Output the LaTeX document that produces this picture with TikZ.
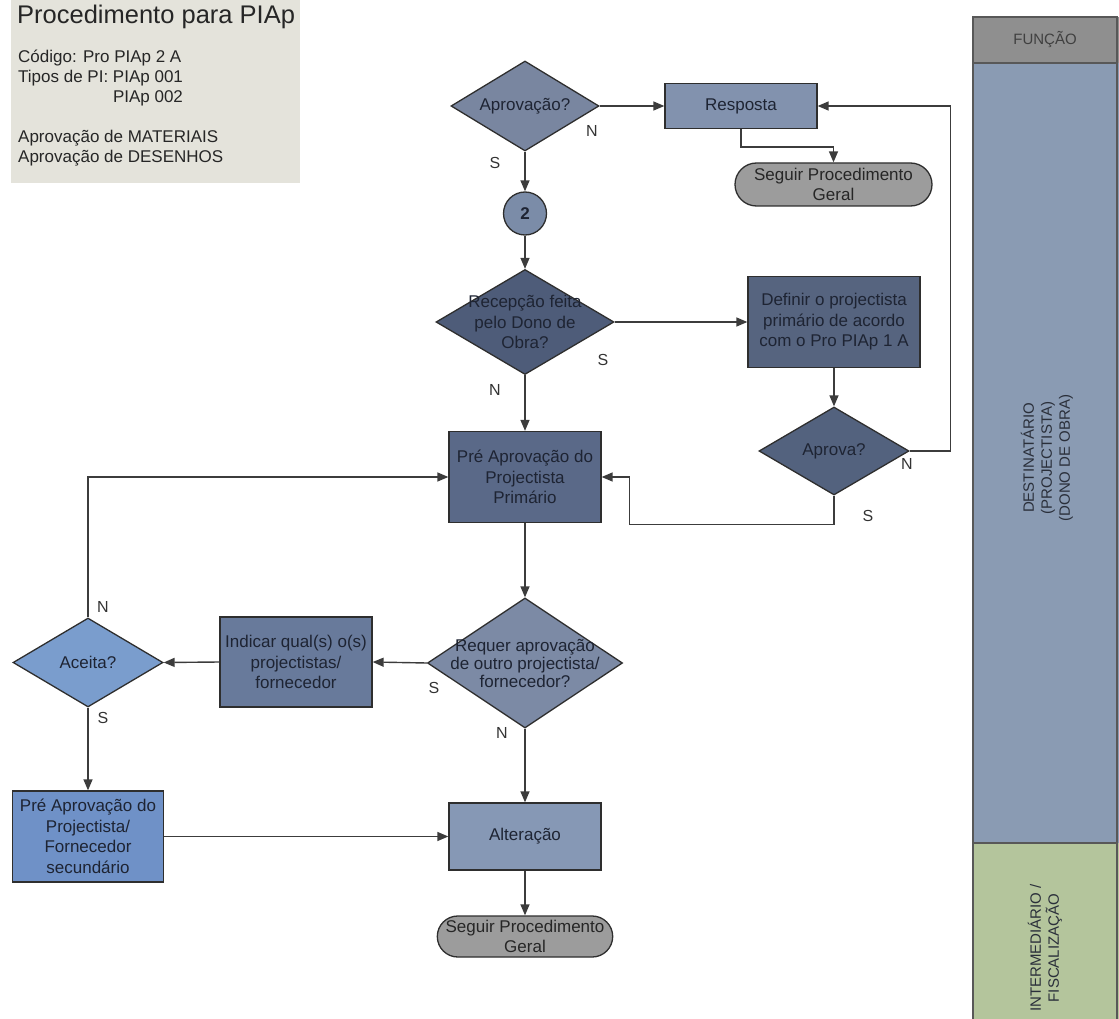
\documentclass[tikz,border=0pt]{standalone}
\usepackage{fontspec}
\setmainfont{Liberation Sans}
\usetikzlibrary{shapes.geometric,shapes.misc,arrows.meta}

% colours
\definecolor{hdrbg}{HTML}{E4E3DB}
\definecolor{txt}{HTML}{1E2433}
\definecolor{bd}{HTML}{2E2E2E}
\definecolor{ln}{HTML}{3C3C3C}
\definecolor{cAprov}{HTML}{7986A0}
\definecolor{cResp}{HTML}{8292AE}
\definecolor{cTerm}{HTML}{9C9C9C}
\definecolor{cCirc}{HTML}{7B8CA8}
\definecolor{cRec}{HTML}{4E5C79}
\definecolor{cDef}{HTML}{56647F}
\definecolor{cPre}{HTML}{5A6988}
\definecolor{cApr}{HTML}{53627E}
\definecolor{cReq}{HTML}{7C8AA5}
\definecolor{cInd}{HTML}{687A9B}
\definecolor{cAcc}{HTML}{7A9DCD}
\definecolor{cPres}{HTML}{6F91C7}
\definecolor{cAlt}{HTML}{8698B5}
\definecolor{laneGray}{HTML}{8F8F8F}
\definecolor{laneBlue}{HTML}{8A9BB3}
\definecolor{laneGreen}{HTML}{B4C59C}
\definecolor{laneTxt}{HTML}{2A2F3A}

% font sizes
\newcommand\fNode{\fontsize{17}{20.5}\selectfont}
\newcommand\fTitle{\fontsize{25.5}{29}\selectfont}
\newcommand\fHead{\fontsize{17}{20}\selectfont}
\newcommand\fYN{\fontsize{16}{18}\selectfont}
\newcommand\fLane{\fontsize{15}{18}\selectfont}

\tikzset{
  shp/.style={draw=bd, line width=1.3pt},
  box/.style={shp, rectangle, inner sep=0pt, font=\fNode, align=center, text=txt},
  dia/.style={shp, diamond, inner sep=0pt},
  dlabel/.style={font=\fNode, align=center, text=txt, inner sep=0pt},
  term/.style={shp, rounded rectangle, fill=cTerm, inner sep=0pt, font=\fNode, align=center, text=black!85},
  conn/.style={draw=ln, line width=1.4pt, -{Triangle[length=11pt,width=9pt]}},
  yn/.style={font=\fYN, text=black!80, inner sep=0pt},
  hdr/.style={font=\fHead, text=black!85, inner sep=0pt, anchor=base west},
  lanetxt/.style={font=\fLane, text=laneTxt, align=center, rotate=90, inner sep=0pt},
}

\begin{document}
\begin{tikzpicture}[x=1pt,y=-1pt]
\useasboundingbox (0,0) rectangle (1119,1019);

% header panel
\fill[hdrbg] (11,0) rectangle (300,183);
\node[anchor=base west, font=\fTitle, text=black!85, inner sep=0pt] (title) at (17,24) {Procedimento para PIAp};
\node[hdr] (h1) at (18,63)  {Código: Pro PIAp 2 A};
\node[hdr] (h2) at (18,83)  {Tipos de PI: PIAp 001};
\node[hdr] (h3) at (18,103) {\hphantom{Tipos de PI: }PIAp 002};
\node[hdr] (h4) at (18,143) {Aprovação de MATERIAIS};
\node[hdr] (h5) at (18,163) {Aprovação de DESENHOS};

% swimlane column
\fill[laneGray]  (973,17)  rectangle (1119,63);
\fill[laneBlue]  (973,63)  rectangle (1119,843);
\fill[laneGreen] (973,843) rectangle (1119,1030);
\draw[bd!80, line width=1.6pt] (973,1030) -- (973,17) -- (1117,17) -- (1117,1030);
\draw[bd!80, line width=1.3pt] (973,63) -- (1117,63);
\draw[bd!80, line width=1.3pt] (973,843) -- (1117,843);
\node[font=\fontsize{15}{18}\selectfont, text=black!75, inner sep=0pt] (funcao) at (1045,40) {FUNÇÃO};
\node[lanetxt] (dest) at (1047,458) {DESTINATÁRIO\\(PROJECTISTA)\\(DONO DE OBRA)};
\node[lanetxt] (inter) at (1045,948) {INTERMEDIÁRIO /\\FISCALIZAÇÃO};

% flowchart nodes
\node[dia, fill=cAprov, minimum width=148, minimum height=90,
      label={[dlabel]center:Aprovação?}] (aprov) at (525,106) {};
\node[box, fill=cResp, minimum width=152, minimum height=45] (resp) at (741,106) {Resposta};
\node[term, minimum width=197, minimum height=43] (seg1) at (833.5,184.5) {Seguir Procedimento\\Geral};
\node[shp, circle, fill=cCirc, minimum size=43, inner sep=0pt, font=\fNode\bfseries, text=txt] (c2) at (525,213.5) {2};
\node[dia, fill=cRec, minimum width=178, minimum height=105,
      label={[dlabel]center:{Recepção feita\\pelo Dono de\\Obra?}}] (rec) at (525,322) {};
\node[box, fill=cDef, minimum width=172, minimum height=91] (def) at (834,322) {Definir o projectista\\primário de acordo\\com o Pro PIAp 1 A};
\node[box, fill=cPre, minimum width=152, minimum height=91] (pre) at (525,477) {Pré Aprovação do\\Projectista\\Primário};
\node[dia, fill=cApr, minimum width=150, minimum height=88,
      label={[dlabel]center:Aprova?}] (apr) at (834,451) {};
\node[dia, fill=cReq, minimum width=195, minimum height=130,
      label={[dlabel, font=\fontsize{17}{18}\selectfont]center:{Requer aprovação\\de outro projectista/\\fornecedor?}}] (req) at (525,663) {};
\node[box, fill=cInd, minimum width=152, minimum height=90] (ind) at (296,662) {Indicar qual(s) o(s)\\projectistas/\\fornecedor};
\node[dia, fill=cAcc, minimum width=150, minimum height=89,
      label={[dlabel]center:Aceita?}] (acc) at (88,662.5) {};
\node[box, fill=cPres, minimum width=151, minimum height=91] (pres) at (88,836.5) {Pré Aprovação do\\Projectista/\\Fornecedor\\secundário};
\node[box, fill=cAlt, minimum width=152, minimum height=67] (alt) at (525,836.5) {Alteração};
\node[term, minimum width=172, minimum height=41] (seg2) at (525,936.5) {Seguir Procedimento\\Geral};

% connectors
\draw[conn] (aprov.east) -- (resp.west);
\draw[conn] (aprov.south) -- (c2.north);
\draw[conn] (resp.south) -- ++(0,18) -| (seg1.north);
\draw[conn] (c2.south) -- (rec.north);
\draw[conn] (rec.east) -- (def.west);
\draw[conn] (rec.south) -- (pre.north);
\draw[conn] (def.south) -- (apr.north);
\draw[conn] (apr.east) -- ++(41,0) |- (resp.east);
\draw[conn] (apr.south) -- ++(0,29) -| ([xshift=28pt]pre.east) -- (pre.east);
\draw[conn] (pre.south) -- (req.north);
\draw[conn] (req.west) -- (ind.east);
\draw[conn] (ind.west) -- (acc.east);
\draw[conn] (acc.north) |- (pre.west);
\draw[conn] (acc.south) -- (pres.north);
\draw[conn] (req.south) -- (alt.north);
\draw[conn] (pres.east) -- (alt.west);
\draw[conn] (alt.south) -- (seg2.north);

% branch labels
\node[yn] (l1) at (592,131) {N};
\node[yn] (l2) at (495,163) {S};
\node[yn] (l3) at (603,360) {S};
\node[yn] (l4) at (495,390) {N};
\node[yn] (l5) at (907,464) {N};
\node[yn] (l6) at (868,516) {S};
\node[yn] (l7) at (103,607) {N};
\node[yn] (l8) at (103,718) {S};
\node[yn] (l9) at (434,688) {S};
\node[yn] (l10) at (502,733) {N};
\end{tikzpicture}
\end{document}
